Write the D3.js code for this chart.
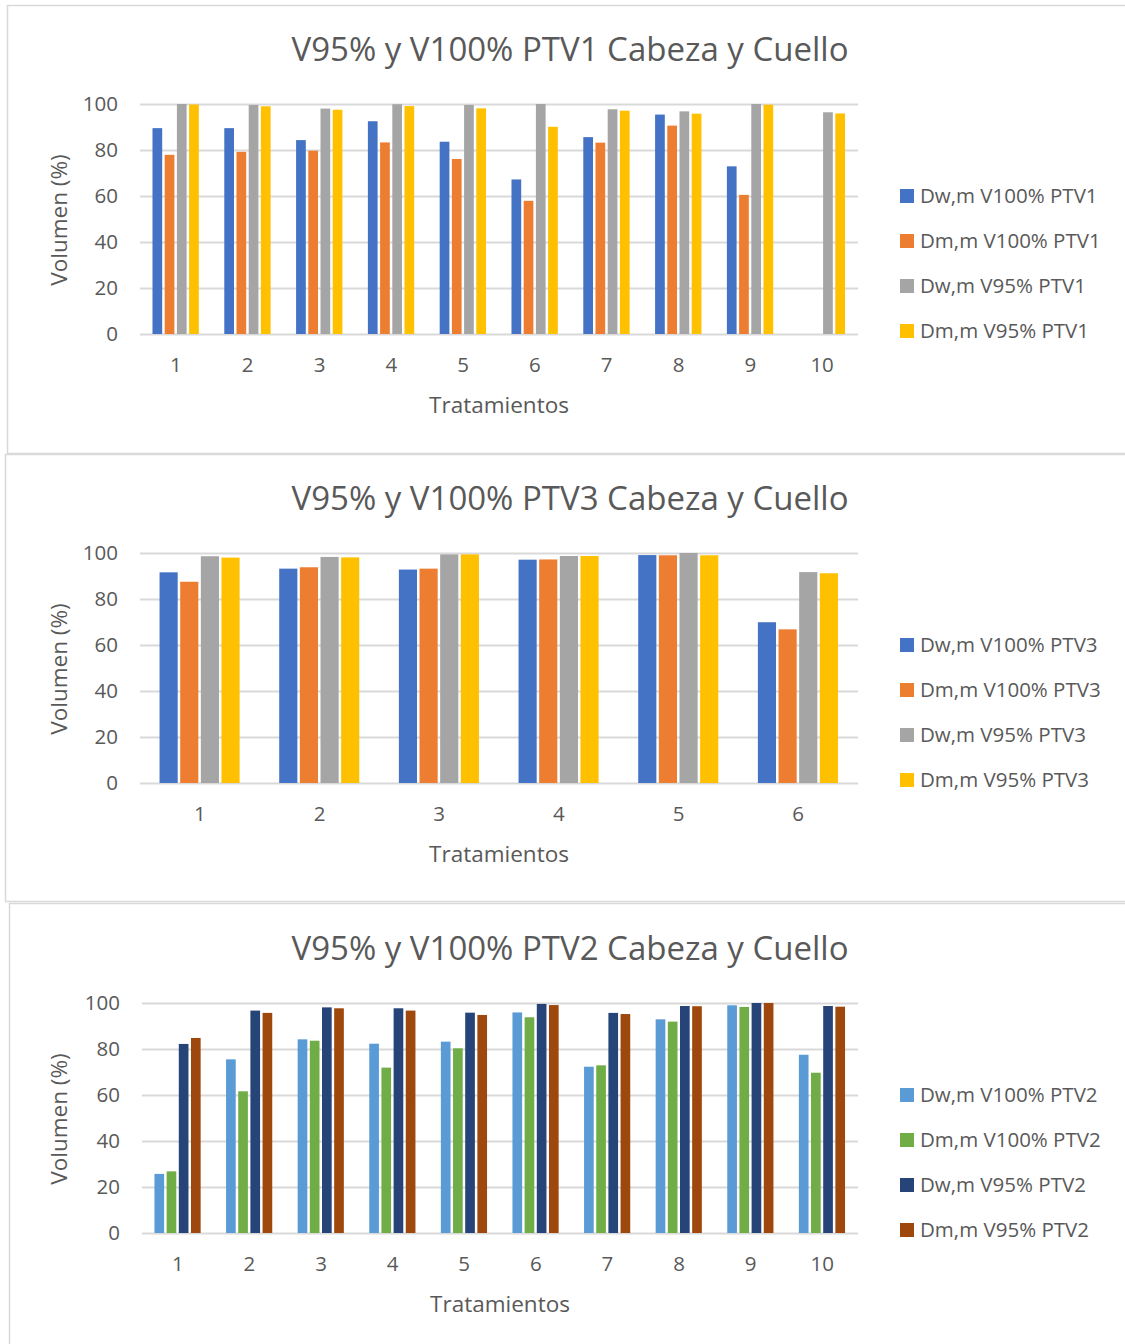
<!DOCTYPE html>
<html><head><meta charset="utf-8">
<script src="https://cdn.jsdelivr.net/npm/d3@7"></script>
<style>
html,body{margin:0;padding:0;background:#fff;}
text{font-family:"Open Sans","Noto Sans",sans-serif;fill:#595959;}
</style></head>
<body><svg id="c" width="1125" height="1344"></svg>
<script>
// ---------- DATA ----------
const yTicks = [0, 20, 40, 60, 80, 100];

const titles = ["V95% y V100% PTV1 Cabeza y Cuello", "V95% y V100% PTV3 Cabeza y Cuello", "V95% y V100% PTV2 Cabeza y Cuello"];
const xAxisTitle = "Tratamientos";
const yAxisTitle = "Volumen (%)";

const categoriesPTV1 = ["1","2","3","4","5","6","7","8","9","10"];
const seriesNamesPTV1 = ["Dw,m V100% PTV1", "Dm,m V100% PTV1", "Dw,m V95% PTV1", "Dm,m V95% PTV1"];
const ptv1DwV100 = [89.5, 89.5, 84.3, 92.5, 83.6, 67.2, 85.6, 95.4, 72.9, null];
const ptv1DmV100 = [77.9, 79.2, 79.7, 83.3, 76.1, 57.9, 83.2, 90.6, 60.5, null];
const ptv1DwV95  = [100, 99.6, 98.0, 99.9, 99.6, 100, 97.7, 96.8, 100, 96.4];
const ptv1DmV95  = [99.8, 99.0, 97.5, 99.1, 98.1, 90.1, 97.1, 95.8, 99.7, 95.9];

const categoriesPTV3 = ["1","2","3","4","5","6"];
const seriesNamesPTV3 = ["Dw,m V100% PTV3", "Dm,m V100% PTV3", "Dw,m V95% PTV3", "Dm,m V95% PTV3"];
const ptv3DwV100 = [91.6, 93.2, 92.8, 97.1, 99.1, 69.9];
const ptv3DmV100 = [87.5, 93.8, 93.2, 97.2, 99.0, 66.8];
const ptv3DwV95  = [98.6, 98.3, 99.4, 98.7, 100, 91.7];
const ptv3DmV95  = [98.0, 98.1, 99.4, 98.7, 99.0, 91.2];

const categoriesPTV2 = ["1","2","3","4","5","6","7","8","9","10"];
const seriesNamesPTV2 = ["Dw,m V100% PTV2", "Dm,m V100% PTV2", "Dw,m V95% PTV2", "Dm,m V95% PTV2"];
const ptv2DwV100 = [25.7, 75.5, 84.2, 82.3, 83.2, 95.9, 72.3, 92.9, 99.0, 77.5];
const ptv2DmV100 = [26.8, 61.6, 83.6, 71.9, 80.3, 93.8, 72.9, 91.9, 98.3, 69.7];
const ptv2DwV95  = [82.2, 96.7, 98.1, 97.7, 95.8, 99.6, 95.7, 98.7, 100, 98.7];
const ptv2DmV95  = [84.8, 95.7, 97.7, 96.7, 94.8, 99.1, 95.2, 98.6, 100, 98.4];

const colorsA = ["#4472C4", "#ED7D31", "#A5A5A5", "#FFC000"];
const colorsB = ["#5B9BD5", "#70AD47", "#264478", "#9E480E"];

// ---------- DRAW ----------
const svg = d3.select("#c");

// panel frames
const panels = [
  {x: 7, y: 5, w: 1130, h: 448},
  {x: 5, y: 454, w: 1130, h: 447},
  {x: 9, y: 903, w: 1130, h: 450}
];
panels.forEach(p => svg.append("rect").attr("x", p.x + 0.5).attr("y", p.y + 0.5)
  .attr("width", p.w).attr("height", p.h).attr("fill", "none")
  .attr("stroke", "#d9d9d9").attr("stroke-width", 1.5));

function drawChart(cfg) {
  const g = svg.append("g").attr("transform", `translate(0,${cfg.dy})`);
  const x0 = d3.scaleBand().domain(cfg.categories).range([cfg.left, 858])
    .paddingInner(cfg.pad).paddingOuter(cfg.pad / 2);
  const x1 = d3.scaleBand().domain(d3.range(cfg.series.length)).range([0, x0.bandwidth()]);
  const y = d3.scaleLinear().domain([0, 100]).range([334, 104]);

  // title
  g.append("text").attr("x", 570).attr("y", 61).attr("text-anchor", "middle")
    .style("font-size", "33px").text(cfg.title);

  // gridlines
  const yAxis = d3.axisLeft(y).tickValues(yTicks).tickSize(-(858 - cfg.left)).tickPadding(22);
  const ga = g.append("g").attr("transform", `translate(${cfg.left},0)`).call(yAxis);
  ga.select(".domain").remove();
  ga.selectAll(".tick line").attr("stroke", "#d9d9d9").attr("stroke-width", 2);
  ga.selectAll(".tick text").style("font-size", "20.5px").attr("fill", "#595959");

  // bars
  cfg.series.forEach((vals, si) => {
    g.append("g").selectAll("rect")
      .data(vals.map((v, i) => ({v, c: cfg.categories[i]})).filter(d => d.v != null))
      .join("rect")
      .attr("x", d => x0(d.c) + x1(si) + 1)
      .attr("width", x1.bandwidth() - 2.5)
      .attr("y", d => y(d.v))
      .attr("height", d => y(0) - y(d.v))
      .attr("fill", cfg.colors[si]);
  });

  // x axis labels
  const xAxis = d3.axisBottom(x0).tickSize(0).tickPadding(23);
  const gx = g.append("g").attr("transform", `translate(0,${y(0)})`).call(xAxis);
  gx.select(".domain").remove();
  gx.selectAll(".tick text").style("font-size", "20.5px").attr("fill", "#595959");

  // axis titles
  g.append("text").attr("x", (cfg.left + 858) / 2).attr("y", 413).attr("text-anchor", "middle")
    .style("font-size", "22.5px").text(xAxisTitle);
  g.append("text").attr("transform", `translate(67,220) rotate(-90)`).attr("text-anchor", "middle")
    .style("font-size", "22.5px").text(yAxisTitle);

  // legend
  const lg = g.append("g");
  cfg.names.forEach((n, i) => {
    const cy = 196 + i * 45;
    lg.append("rect").attr("x", 900).attr("y", cy - 7).attr("width", 14).attr("height", 14).attr("fill", cfg.colors[i]);
    lg.append("text").attr("x", 920).attr("y", cy).attr("dy", "0.35em").style("font-size", "20.5px").text(n);
  });
}

drawChart({dy: 0, left: 140, pad: 0.32, title: titles[0], categories: categoriesPTV1,
  series: [ptv1DwV100, ptv1DmV100, ptv1DwV95, ptv1DmV95], names: seriesNamesPTV1, colors: colorsA});
drawChart({dy: 449, left: 140, pad: 0.31, title: titles[1], categories: categoriesPTV3,
  series: [ptv3DwV100, ptv3DmV100, ptv3DwV95, ptv3DmV95], names: seriesNamesPTV3, colors: colorsA});
drawChart({dy: 899, left: 142, pad: 0.32, title: titles[2], categories: categoriesPTV2,
  series: [ptv2DwV100, ptv2DmV100, ptv2DwV95, ptv2DmV95], names: seriesNamesPTV2, colors: colorsB});
</script></body></html>
